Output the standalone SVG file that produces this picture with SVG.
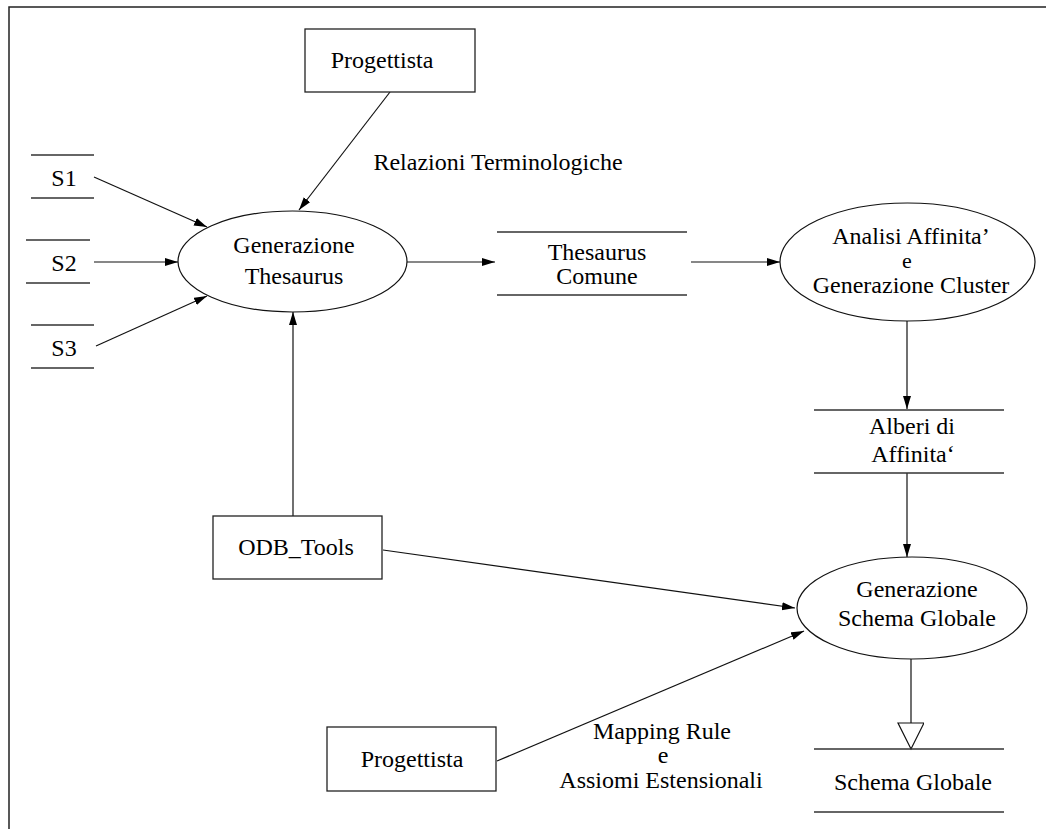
<svg xmlns="http://www.w3.org/2000/svg" width="1046" height="829" viewBox="0 0 1046 829">
  <style>
    text { font-family: "Liberation Serif", "Times New Roman", serif; font-size: 24px; fill: #000; text-anchor: middle; }
    .small { font-size: 22px; }
    .frame { stroke: #222; stroke-width: 1.5; fill: none; }
    .box { fill: #fff; stroke: #222; stroke-width: 1.3; }
    .proc { fill: #fff; stroke: #111; stroke-width: 1.2; }
    .store { stroke: #333; stroke-width: 1.3; fill: none; }
    .flow { stroke: #111; stroke-width: 1.2; fill: none; }
    .arrow { marker-end: url(#head); }
    .open { marker-end: url(#hollow); }
  </style>
  <defs>
    <marker id="head" markerUnits="userSpaceOnUse" markerWidth="14" markerHeight="10" refX="13" refY="4" orient="auto">
      <path d="M0,0 L13,4 L0,8 Z" fill="#000"/>
    </marker>
    <marker id="hollow" markerUnits="userSpaceOnUse" markerWidth="30" markerHeight="30" refX="27" refY="13" orient="auto">
      <path d="M1,0 L27,13 L1,26 Z" fill="#fff" stroke="#111" stroke-width="1.2"/>
    </marker>
  </defs>

  <!-- page frame -->
  <path class="frame" d="M9,829 L9,7 L1046,7"/>

  <!-- connectors -->
  <g id="connectors">
    <line class="flow arrow" x1="390" y1="92" x2="299" y2="210"/>
    <line class="flow arrow" x1="94" y1="177" x2="207" y2="227"/>
    <line class="flow arrow" x1="94" y1="262" x2="178" y2="262"/>
    <line class="flow arrow" x1="96" y1="346" x2="207" y2="296"/>
    <line class="flow arrow" x1="293" y1="516" x2="293" y2="312"/>
    <line class="flow arrow" x1="407" y1="262" x2="495" y2="262"/>
    <line class="flow arrow" x1="691" y1="262" x2="780" y2="262"/>
    <line class="flow arrow" x1="907" y1="321" x2="907" y2="409"/>
    <line class="flow arrow" x1="907" y1="473" x2="907" y2="557"/>
    <line class="flow arrow" x1="383" y1="550" x2="795" y2="608"/>
    <line class="flow arrow" x1="497" y1="761" x2="804" y2="631"/>
    <line class="flow open" x1="911" y1="659" x2="911" y2="749"/>
    <text x="498" y="170">Relazioni Terminologiche</text>
    <text x="662" y="739">Mapping Rule</text>
    <text x="663" y="763">e</text>
    <text x="661" y="788">Assiomi Estensionali</text>
  </g>

  <!-- external entities -->
  <g id="progettista-top">
    <rect class="box" x="305" y="29" width="170" height="63"/>
    <text x="382" y="68">Progettista</text>
  </g>
  <g id="odb-tools">
    <rect class="box" x="213" y="516" width="169" height="63"/>
    <text x="296" y="555">ODB_Tools</text>
  </g>
  <g id="progettista-bottom">
    <rect class="box" x="327" y="727" width="169" height="64"/>
    <text x="412" y="767">Progettista</text>
  </g>

  <!-- data stores -->
  <g id="s1">
    <line class="store" x1="31" y1="155" x2="94" y2="155"/>
    <line class="store" x1="31" y1="198" x2="94" y2="198"/>
    <text x="64" y="186">S1</text>
  </g>
  <g id="s2">
    <line class="store" x1="26" y1="240" x2="90" y2="240"/>
    <line class="store" x1="26" y1="283" x2="90" y2="283"/>
    <text x="64" y="271">S2</text>
  </g>
  <g id="s3">
    <line class="store" x1="31" y1="325" x2="94" y2="325"/>
    <line class="store" x1="31" y1="368" x2="94" y2="368"/>
    <text x="64" y="356">S3</text>
  </g>
  <g id="thesaurus-comune">
    <line class="store" x1="497" y1="232" x2="687" y2="232"/>
    <line class="store" x1="497" y1="295" x2="687" y2="295"/>
    <text x="597" y="260">Thesaurus</text>
    <text x="597" y="284">Comune</text>
  </g>
  <g id="alberi-affinita">
    <line class="store" x1="814" y1="410" x2="1004" y2="410"/>
    <line class="store" x1="814" y1="473" x2="1004" y2="473"/>
    <text x="912" y="434">Alberi di</text>
    <text x="913" y="462">Affinita‘</text>
  </g>
  <g id="schema-globale-store">
    <line class="store" x1="814" y1="749" x2="1004" y2="749"/>
    <line class="store" x1="814" y1="812" x2="1004" y2="812"/>
    <text x="913" y="790">Schema Globale</text>
  </g>

  <!-- processes -->
  <g id="generazione-thesaurus">
    <ellipse class="proc" cx="292.5" cy="261.5" rx="114.5" ry="50.5"/>
    <text x="294" y="253">Generazione</text>
    <text x="294" y="284">Thesaurus</text>
  </g>
  <g id="analisi-affinita">
    <ellipse class="proc" cx="907.5" cy="262" rx="127.5" ry="59"/>
    <text x="911" y="244">Analisi Affinita’</text>
    <text class="small" x="907" y="268">e</text>
    <text x="911" y="293">Generazione Cluster</text>
  </g>
  <g id="generazione-schema">
    <ellipse class="proc" cx="912" cy="608" rx="115" ry="51"/>
    <text x="917" y="597">Generazione</text>
    <text x="917" y="626">Schema Globale</text>
  </g>
</svg>
